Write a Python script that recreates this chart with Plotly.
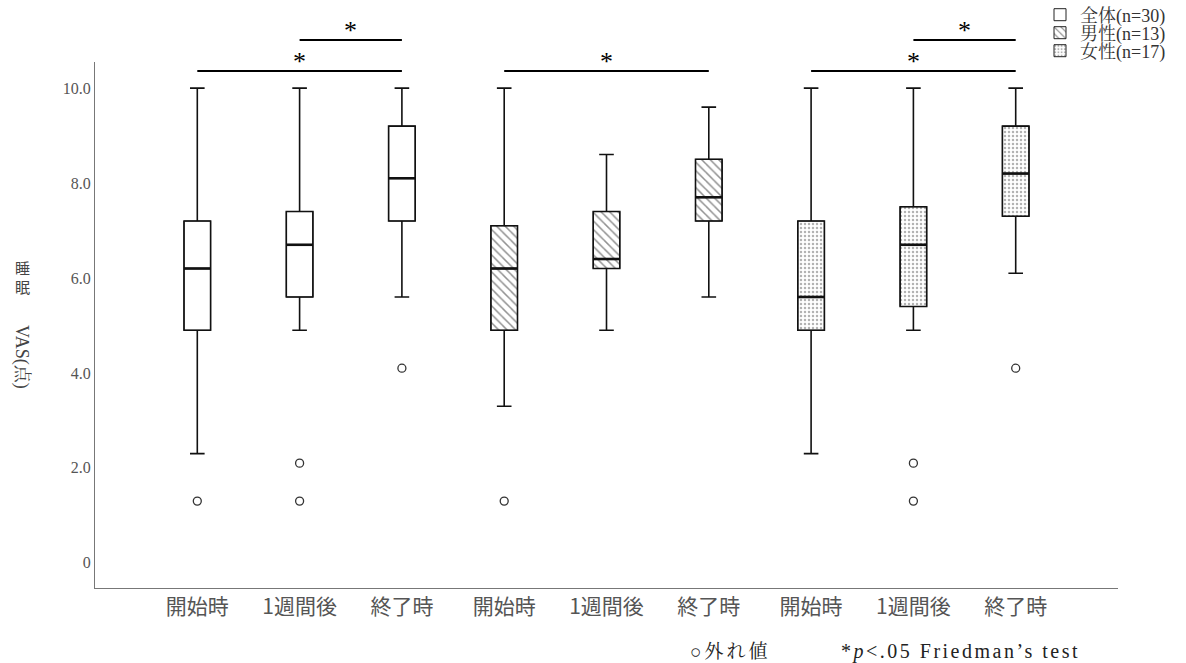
import plotly.graph_objects as go

# ---------------- data ----------------
categories = ["開始時", "1週間後", "終了時"]
groups = ["全体(n=30)", "男性(n=13)", "女性(n=17)"]

# 全体
all_lower = [2.3, 4.9, 5.6]
all_q1 = [4.9, 5.6, 7.2]
all_median = [6.2, 6.7, 8.1]
all_q3 = [7.2, 7.4, 9.2]
all_upper = [10.0, 10.0, 10.0]
all_outliers = [[1.3], [2.1, 1.3], [4.1]]

# 男性
male_lower = [3.3, 4.9, 5.6]
male_q1 = [4.9, 6.2, 7.2]
male_median = [6.2, 6.4, 7.7]
male_q3 = [7.1, 7.4, 8.5]
male_upper = [10.0, 8.6, 9.6]
male_outliers = [[1.3], [], []]

# 女性
female_lower = [2.3, 4.9, 6.1]
female_q1 = [4.9, 5.4, 7.3]
female_median = [5.6, 6.7, 8.2]
female_q3 = [7.2, 7.5, 9.2]
female_upper = [10.0, 10.0, 10.0]
female_outliers = [[], [2.1, 1.3], [4.1]]

# significant pairs (group index, category a, category b)
sig_pairs = [(0, 0, 2), (0, 1, 2), (1, 0, 2), (2, 0, 2), (2, 1, 2)]

y_tickvals = [0, 2, 4, 6, 8, 10]
y_ticktext = ["0", "2.0", "4.0", "6.0", "8.0", "10.0"]

# ---------------- figure ----------------
series = [
    (all_lower, all_q1, all_median, all_q3, all_upper, all_outliers),
    (male_lower, male_q1, male_median, male_q3, male_upper, male_outliers),
    (female_lower, female_q1, female_median, female_q3, female_upper, female_outliers),
]
patterns = [
    dict(shape=""),
    dict(shape="\\", size=6, solidity=0.25, fgcolor="#222222", bgcolor="white"),
    dict(shape=".", size=4, solidity=0.3, fgcolor="#666666", bgcolor="white"),
]

W, H = 1186, 663
PL, PR, PT, PB = 95, 1118, 62, 588


def px_x(p):
    return (p - PL) / (PR - PL)


def px_y(p):
    return (PB - p) / (PB - PT)


serif = "Liberation Serif, Noto Serif CJK JP, Noto Sans CJK JP"
legend_names = ["legend", "legend2", "legend3"]
legend_rows = [15, 33, 51]

BW = 0.26
fig = go.Figure()
ncat = len(categories)
for gi, (lo, q1, med, q3, up, outs) in enumerate(series):
    xs = [gi * ncat + ci for ci in range(ncat)]
    # patterned fill (also legend swatch)
    fig.add_trace(go.Bar(
        x=xs, y=[b - a for a, b in zip(q1, q3)], base=q1, width=BW,
        marker=dict(color="white", pattern=patterns[gi], line=dict(color="#222", width=1)),
        name=groups[gi], showlegend=True, hoverinfo="skip", legend=legend_names[gi],
    ))
    fig.add_trace(go.Box(
        x=xs, q1=q1, median=med, q3=q3, lowerfence=lo, upperfence=up,
        width=BW, whiskerwidth=0.55, boxpoints=False,
        fillcolor="rgba(0,0,0,0)", line=dict(color="#111", width=1.6),
        showlegend=False,
    ))
    # thicker median lines
    mx, my = [], []
    for x, m in zip(xs, med):
        mx += [x - BW / 2, x + BW / 2, None]
        my += [m, m, None]
    fig.add_trace(go.Scatter(x=mx, y=my, mode="lines", line=dict(color="#111", width=2.6),
                             showlegend=False, hoverinfo="skip"))
    # outliers
    ox, oy = [], []
    for x, o in zip(xs, outs):
        ox += [x] * len(o)
        oy += o
    fig.add_trace(go.Scatter(x=ox, y=oy, mode="markers",
                             marker=dict(symbol="circle-open", size=8, color="#333",
                                         line=dict(width=1.3)),
                             showlegend=False))

# significance brackets
level_y = {0: px_y(71), 1: px_y(40)}
for gi, a, b in sig_pairs:
    lvl = 0 if (b - a) == 2 else 1
    x0, x1 = gi * ncat + a, gi * ncat + b
    y = level_y[lvl]
    fig.add_shape(type="line", xref="x", yref="paper", x0=x0, x1=x1, y0=y, y1=y,
                  line=dict(color="black", width=2))
    fig.add_annotation(x=(x0 + x1) / 2, xref="x", y=y - 7 / (PB - PT), yref="paper",
                       text="*", showarrow=False, yanchor="bottom",
                       font=dict(family="Liberation Serif", size=26, color="black"))

layout_legends = {}
for name, row in zip(legend_names, legend_rows):
    layout_legends[name] = dict(
        x=px_x(1040), y=px_y(row), xanchor="left", yanchor="middle",
        font=dict(family=serif, size=18, color="#333"),
        bgcolor="rgba(0,0,0,0)", borderwidth=0,
    )

fig.update_layout(
    width=W, height=H,
    margin=dict(l=PL, r=W - PR, t=PT, b=H - PB, autoexpand=False),
    paper_bgcolor="white", plot_bgcolor="white",
    barmode="overlay", boxmode="overlay",
    showlegend=True,
    xaxis=dict(range=[-1, 9], tickvals=list(range(9)), ticktext=categories * 3,
               showgrid=False, zeroline=False, showline=True, linecolor="#777", linewidth=1,
               ticks="", tickfont=dict(family="Noto Sans CJK JP", size=21, color="#555")),
    yaxis=dict(range=[-0.53, 10.55], tickvals=y_tickvals, ticktext=y_ticktext,
               showgrid=False, zeroline=False, showline=True, linecolor="#777", linewidth=1,
               ticks="", tickfont=dict(family=serif, size=16, color="#555")),
    **layout_legends,
)

# y axis title: 睡眠 upright, VAS(点) rotated
for ch, row in zip("睡眠", [267, 286]):
    fig.add_annotation(xref="paper", yref="paper", x=px_x(22), y=px_y(row), text=ch,
                       showarrow=False, font=dict(family="Noto Sans CJK JP", size=15, color="#444"),
                       xanchor="center", yanchor="middle")
fig.add_annotation(xref="paper", yref="paper", x=px_x(22), y=px_y(357), text="VAS(点)",
                   textangle=90, showarrow=False,
                   font=dict(family=serif, size=18, color="#444"),
                   xanchor="center", yanchor="middle")

# footnote
fig.add_annotation(xref="paper", yref="paper", x=px_x(688), y=px_y(651),
                   text='<span style="letter-spacing:3px">○外れ値</span>', showarrow=False,
                   xanchor="left", yanchor="middle",
                   font=dict(family=serif, size=19, color="#222"))
fig.add_annotation(xref="paper", yref="paper", x=px_x(1082), y=px_y(651),
                   text='<span style="letter-spacing:2.5px">*<i>p</i><.05 Friedman’s test</span>',
                   showarrow=False, xanchor="right", yanchor="middle",
                   font=dict(family=serif, size=20, color="#222"))

fig.write_html("out.html", config={"displayModeBar": False},
               post_script="document.body.style.margin='0';")
